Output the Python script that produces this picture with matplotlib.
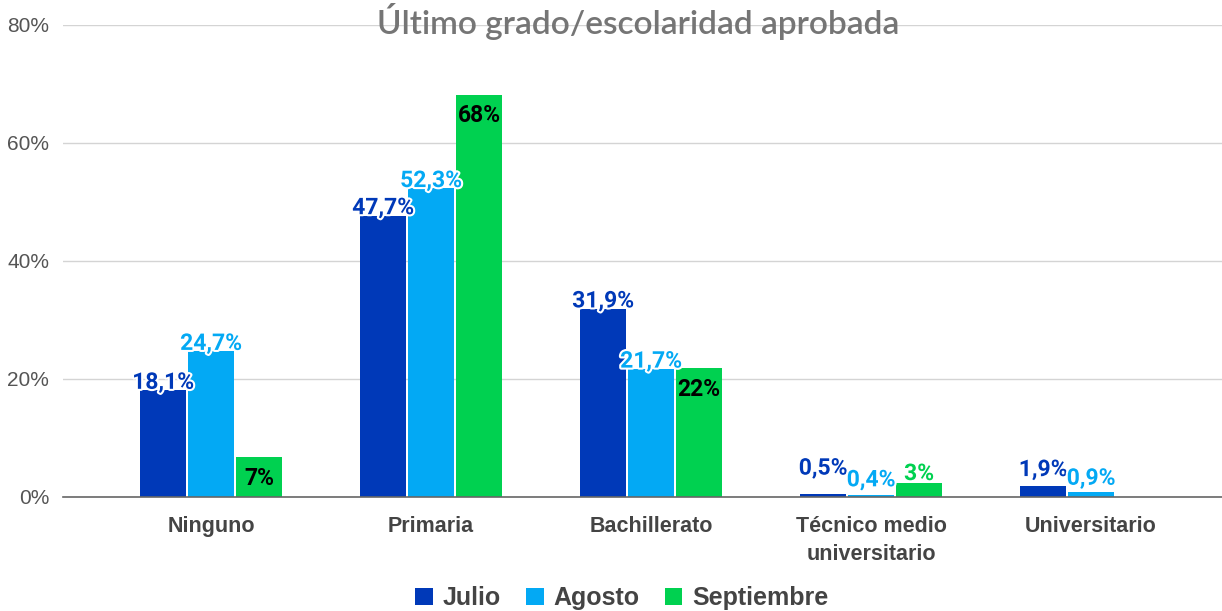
import matplotlib
matplotlib.use("Agg")
import matplotlib.pyplot as plt
import matplotlib.patheffects as pe
import numpy as np

categories = ["Ninguno", "Primaria", "Bachillerato", "Técnico medio\nuniversitario", "Universitario"]
series_names = ["Julio", "Agosto", "Septiembre"]
julio = [18.1, 47.7, 31.9, 0.5, 1.9]
agosto = [24.7, 52.3, 21.7, 0.4, 0.9]
septiembre = [6.8, 68.2, 21.8, 2.4, None]
julio_labels = ["18,1%", "47,7%", "31,9%", "0,5%", "1,9%"]
agosto_labels = ["24,7%", "52,3%", "21,7%", "0,4%", "0,9%"]
septiembre_labels = ["7%", "68%", "22%", "3%", None]

COLORS = ["#0039b8", "#03a9f4", "#00d150"]
GREY = "#444444"

# small label nudges (points) where the reference pushes labels up off tiny bars
NUDGE = {(0, 3): 13, (1, 3): 5, (2, 3): 1, (0, 4): 6, (1, 4): 4}

fig = plt.figure(figsize=(12.22, 6.11), dpi=100)
ax = fig.add_axes([63 / 1222, 1 - 497 / 611, 1 - 63 / 1222, (497 - 25) / 611])

x = np.arange(len(categories))
w, off = 0.209, 0.218
outline = [pe.withStroke(linewidth=3, foreground="white")]

for k, (vals, labels) in enumerate(zip([julio, agosto, septiembre],
                                        [julio_labels, agosto_labels, septiembre_labels])):
    xs = x + (k - 1) * off
    hs = [v if v is not None else 0 for v in vals]
    ax.bar(xs, hs, width=w, color=COLORS[k], label=series_names[k], zorder=3)
    for i, (v, lab) in enumerate(zip(vals, labels)):
        if v is None:
            continue
        if k == 2 and v > 5:
            ax.annotate(lab, (xs[i], v), xytext=(0, -7), textcoords="offset points",
                        ha="center", va="top", fontsize=16.5, fontweight="bold",
                        family="Roboto", color="black", zorder=5)
        else:
            ax.annotate(lab, (xs[i], v), xytext=(0, 1 + NUDGE.get((k, i), 0)),
                        textcoords="offset points", ha="center", va="baseline",
                        fontsize=16.5, fontweight="bold", family="Roboto",
                        color=COLORS[k], path_effects=outline, zorder=5)

ax.set_xlim(-0.673, 4.595)
ax.set_ylim(0, 80)
ax.set_yticks([0, 20, 40, 60, 80])
ax.set_yticklabels([f"{t}%" for t in [0, 20, 40, 60, 80]], family="Liberation Sans",
                   fontsize=15, color="#555555")
ax.set_xticks(x)
ax.set_xticklabels(categories, family="Liberation Sans", fontsize=15.5,
                   fontweight="bold", color=GREY, linespacing=1.4)
ax.tick_params(axis="both", length=0)
ax.tick_params(axis="y", pad=10)
ax.tick_params(axis="x", pad=14)
ax.grid(True, axis="y", color="#d4d4d4", linewidth=1, zorder=0)
for s in ["left", "right", "top"]:
    ax.spines[s].set_visible(False)
ax.spines["bottom"].set_color("#666666")
ax.spines["bottom"].set_linewidth(1.2)
ax.spines["bottom"].set_zorder(4)

fig.text(638 / 1222, 1 - 22 / 611, "Último grado/escolaridad aprobada", ha="center",
         va="center", fontsize=24, family="Lato", fontweight="semibold", color="#757575")

leg = fig.legend(loc="center", bbox_to_anchor=(622 / 1222, 1 - 598 / 611), ncol=3,
                 frameon=False, prop={"family": "Liberation Sans", "weight": "bold", "size": 18},
                 handlelength=0.7, handleheight=0.7, handletextpad=0.4, columnspacing=1.0)
for t in leg.get_texts():
    t.set_color(GREY)

fig.savefig("out.png", dpi=100)
